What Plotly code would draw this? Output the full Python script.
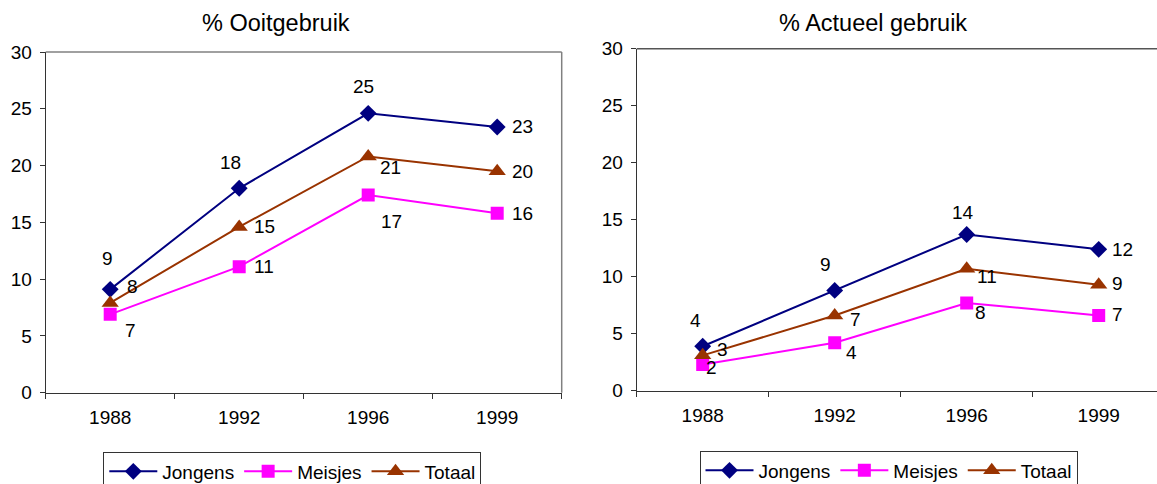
import numpy as np
import plotly.graph_objects as go

# ---- data -------------------------------------------------------------
years = ["1988", "1992", "1996", "1999"]

ooit_jongens = [9.1, 18.0, 24.6, 23.4]
ooit_meisjes = [6.9, 11.1, 17.4, 15.8]
ooit_totaal = [7.9, 14.6, 20.8, 19.5]

actueel_jongens = [3.9, 8.8, 13.7, 12.4]
actueel_meisjes = [2.3, 4.2, 7.7, 6.6]
actueel_totaal = [3.1, 6.6, 10.7, 9.3]

series_names = ["Jongens", "Meisjes", "Totaal"]
y_ticks = [0, 5, 10, 15, 20, 25, 30]

# ---- styling ----------------------------------------------------------
W, H = 1157, 484
FONT = "Arial, Liberation Sans, sans-serif"
colors = {"Jongens": "#000080", "Meisjes": "#FF00FF", "Totaal": "#993300"}
symbols = {"Jongens": "diamond", "Meisjes": "square", "Totaal": "triangle-up"}
msizes = {"Jongens": 13, "Meisjes": 13, "Totaal": 15}

# pixel offsets (dx right, dy down) of each value label from its marker
label_offsets_left = {
    "Jongens": [(-3, -31), (-9, -26), (-5, -27), (25, 0)],
    "Meisjes": [(20, 16), (25, 0), (23, 26), (25, 0)],
    "Totaal": [(22, -16), (25, 0), (22, 11), (25, 0)],
}
label_offsets_right = {
    "Jongens": [(-7, -26), (-9, -26), (-4, -22), (24, 0)],
    "Meisjes": [(9, 3), (17, 10), (14, 10), (19, -1)],
    "Totaal": [(20, -6), (21, 4), (20, 8), (19, -1)],
}


def px_x(p):
    return p / W


def px_y(p):
    return 1 - p / H


def round_half_up(v):
    return str(int(np.floor(v + 0.5)))


fig = go.Figure()

panels = [
    dict(xa="x", ya="y", legend="legend", offsets=label_offsets_left,
         data={"Jongens": ooit_jongens, "Meisjes": ooit_meisjes, "Totaal": ooit_totaal}),
    dict(xa="x2", ya="y2", legend="legend2", offsets=label_offsets_right,
         data={"Jongens": actueel_jongens, "Meisjes": actueel_meisjes, "Totaal": actueel_totaal}),
]

annotations = []
for panel in panels:
    for name in series_names:
        vals = panel["data"][name]
        fig.add_trace(go.Scatter(
            x=years, y=vals, name=name, mode="lines+markers",
            xaxis=panel["xa"], yaxis=panel["ya"], legend=panel["legend"],
            line=dict(color=colors[name], width=2),
            marker=dict(symbol=symbols[name], size=msizes[name], color=colors[name]),
            hoverinfo="skip",
        ))
        # value labels; x is the category's serial number on the category axis
        for i, v in enumerate(vals):
            dx, dy = panel["offsets"][name][i]
            annotations.append(dict(
                x=i, y=v, xref=panel["xa"], yref=panel["ya"],
                text=round_half_up(v), showarrow=False,
                xanchor="center", yanchor="middle",
                xshift=dx, yshift=-dy,
                font=dict(family=FONT, size=19, color="black"),
            ))

# chart titles
annotations.append(dict(x=px_x(276), y=px_y(23), xref="paper", yref="paper",
                        xanchor="center", yanchor="middle",
                        text="% Ooitgebruik", showarrow=False,
                        font=dict(family=FONT, size=23.5, color="black")))
annotations.append(dict(x=px_x(873), y=px_y(23), xref="paper", yref="paper",
                        xanchor="center", yanchor="middle",
                        text="% Actueel gebruik", showarrow=False,
                        font=dict(family=FONT, size=23.5, color="black")))

axis_common_x = dict(
    type="category", showgrid=False, zeroline=False,
    showline=True, linecolor="#333333", linewidth=1,
    ticks="outside", ticklen=5, tickcolor="#333333", tickson="boundaries",
    ticklabelstandoff=7,
    tickfont=dict(family=FONT, size=19, color="black"),
    fixedrange=True,
)
axis_common_y = dict(
    range=[0, 30], tickvals=y_ticks, showgrid=False, zeroline=False,
    showline=True, linecolor="#333333", linewidth=1,
    ticks="outside", ticklen=5, tickcolor="#333333",
    ticklabelstandoff=4,
    tickfont=dict(family=FONT, size=19, color="black"),
    fixedrange=True,
)

legend_common = dict(
    orientation="h", xanchor="left", yanchor="top",
    bordercolor="#333333", borderwidth=1, bgcolor="white",
    font=dict(family=FONT, size=19, color="black"),
    itemwidth=48, tracegroupgap=0,
)

fig.update_layout(
    width=W, height=H,
    margin=dict(l=0, r=0, t=0, b=0, autoexpand=False),
    paper_bgcolor="white", plot_bgcolor="white",
    font=dict(family=FONT, size=19, color="black"),
    xaxis=dict(axis_common_x, domain=[px_x(45.7), px_x(561.7)], range=[-0.5, 3.5],
               anchor="y"),
    yaxis=dict(axis_common_y, domain=[px_y(392.7), px_y(52)], anchor="x"),
    xaxis2=dict(axis_common_x, domain=[px_x(636.7), 1.0],
                range=[-0.5, -0.5 + (W - 636.7) / 132.0], anchor="y2"),
    yaxis2=dict(axis_common_y, domain=[px_y(390.7), px_y(48.7)], anchor="x2"),
    legend=dict(legend_common, x=px_x(103.3), y=px_y(451.5)),
    legend2=dict(legend_common, x=px_x(699.5), y=px_y(450.5)),
    annotations=annotations,
    shapes=[
        # upper and right frame of the left plot area
        dict(type="line", xref="x domain", yref="y domain", x0=0, x1=1, y0=1, y1=1,
             line=dict(color="#808080", width=1.5)),
        dict(type="line", xref="x domain", yref="y domain", x0=1, x1=1, y0=0, y1=1,
             line=dict(color="#808080", width=1.5)),
        # upper frame of the right plot area
        dict(type="line", xref="x2 domain", yref="y2 domain", x0=0, x1=1, y0=1, y1=1,
             line=dict(color="#555555", width=1.5)),
    ],
    hovermode=False,
    showlegend=True,
)

fig.write_html("out.html")
